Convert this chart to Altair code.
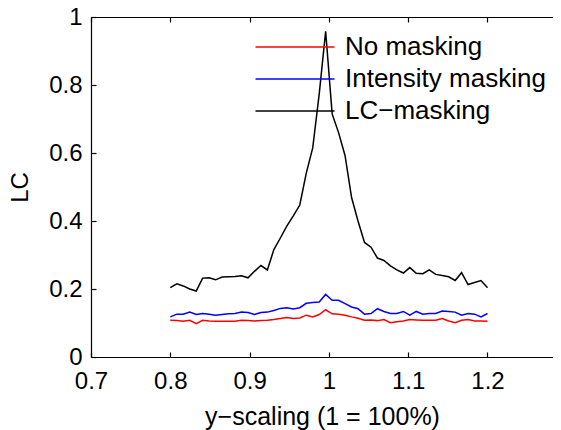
import altair as alt
import pandas as pd

x_vals = [0.8000, 0.8082, 0.8163, 0.8245, 0.8327, 0.8408, 0.8490, 0.8571, 0.8653, 0.8735,
          0.8816, 0.8898, 0.8980, 0.9061, 0.9143, 0.9224, 0.9306, 0.9388, 0.9469, 0.9551,
          0.9633, 0.9714, 0.9796, 0.9878, 0.9959, 1.0041, 1.0122, 1.0204, 1.0286, 1.0367,
          1.0449, 1.0531, 1.0612, 1.0694, 1.0776, 1.0857, 1.0939, 1.1020, 1.1102, 1.1184,
          1.1265, 1.1347, 1.1429, 1.1510, 1.1592, 1.1673, 1.1755, 1.1837, 1.1918, 1.2000]

no_masking = [0.108, 0.107, 0.105, 0.108, 0.098, 0.108, 0.106, 0.105, 0.105, 0.105,
              0.105, 0.108, 0.107, 0.106, 0.107, 0.108, 0.110, 0.113, 0.116, 0.113,
              0.115, 0.123, 0.118, 0.125, 0.139, 0.127, 0.126, 0.123, 0.118, 0.114,
              0.108, 0.109, 0.107, 0.110, 0.101, 0.104, 0.106, 0.110, 0.109, 0.108,
              0.108, 0.108, 0.113, 0.106, 0.101, 0.108, 0.110, 0.106, 0.106, 0.105]

intensity_masking = [0.118, 0.126, 0.126, 0.132, 0.125, 0.128, 0.126, 0.123, 0.125, 0.127,
                     0.128, 0.132, 0.131, 0.125, 0.131, 0.132, 0.137, 0.143, 0.145, 0.141,
                     0.145, 0.158, 0.160, 0.162, 0.184, 0.167, 0.167, 0.157, 0.147, 0.142,
                     0.126, 0.128, 0.142, 0.134, 0.128, 0.128, 0.134, 0.123, 0.134, 0.126,
                     0.128, 0.128, 0.135, 0.134, 0.132, 0.123, 0.128, 0.126, 0.118, 0.128]

lc_masking = [0.204, 0.215, 0.209, 0.200, 0.194, 0.232, 0.233, 0.227, 0.235, 0.236,
              0.237, 0.239, 0.233, 0.252, 0.269, 0.256, 0.316, 0.350, 0.385, 0.415,
              0.447, 0.540, 0.615, 0.774, 0.958, 0.715, 0.660, 0.592, 0.469, 0.400,
              0.337, 0.323, 0.291, 0.284, 0.268, 0.256, 0.247, 0.263, 0.246, 0.245,
              0.256, 0.243, 0.240, 0.236, 0.225, 0.248, 0.213, 0.219, 0.225, 0.204]

series_names = ["No masking", "Intensity masking", "LC\u2212masking"]
series_colors = ["#ff0000", "#0000ff", "#000000"]
x_ticks = [0.7, 0.8, 0.9, 1.0, 1.1, 1.2]
y_ticks = [0, 0.2, 0.4, 0.6, 0.8, 1.0]

rows = []
for name, vals in zip(series_names, [no_masking, intensity_masking, lc_masking]):
    for xv, yv in zip(x_vals, vals):
        rows.append({"x": xv, "value": yv, "series": name})
df = pd.DataFrame(rows)

FONT = "Liberation Sans"
xs = alt.Scale(domain=[0.7, 1.2826], nice=False, zero=False)
ys = alt.Scale(domain=[0, 1], nice=False)

common = dict(grid=False, labelFont=FONT, titleFont=FONT, domainColor="black",
              tickColor="black", labelColor="black", titleColor="black")

x_main = alt.Axis(orient="bottom", values=x_ticks, format="~g", ticks=False, domain=True,
                  domainWidth=1.2, labelFontSize=24, labelPadding=12, labelFlush=False,
                  title="y\u2212scaling (1 = 100%)", titleFontSize=25,
                  titleFontWeight="normal", titlePadding=11, **common)
y_main = alt.Axis(orient="left", values=y_ticks, format="~g", ticks=False, domain=True,
                  domainWidth=1.2, labelFontSize=24, labelPadding=9, labelFlush=False,
                  title="LC", titleFontSize=24, titleFontWeight="normal",
                  titlePadding=16, **common)
x_btm_ticks = alt.Axis(orient="bottom", values=x_ticks, offset=-5, tickSize=5, tickWidth=1.2,
                       domain=False, labels=False, title=None, **common)
y_left_ticks = alt.Axis(orient="left", values=y_ticks, offset=-5, tickSize=5, tickWidth=1.2,
                        domain=False, labels=False, title=None, **common)
x_top_dom = alt.Axis(orient="top", values=x_ticks, ticks=False, domain=True, domainWidth=1.2,
                     labels=False, title=None, **common)
x_top_ticks = alt.Axis(orient="top", values=x_ticks, offset=-5, tickSize=5, tickWidth=1.2,
                       domain=False, labels=False, title=None, **common)

legend = alt.Legend(orient="none", legendX=191, legendY=17, title=None,
                    symbolType="M-4,0H4", symbolSize=390, symbolStrokeWidth=1.5,
                    labelFontSize=26, labelFont=FONT, labelColor="black", labelLimit=400,
                    labelOffset=37, rowPadding=6, padding=0)

base = alt.Chart(df)

lines = base.mark_line(strokeWidth=1.5).encode(
    x=alt.X("x:Q", scale=xs, axis=x_main),
    y=alt.Y("value:Q", scale=ys, axis=y_main),
    color=alt.Color("series:N", scale=alt.Scale(domain=series_names, range=series_colors),
                    sort=series_names, legend=legend),
)

ghost1 = base.mark_line(opacity=0).encode(
    x=alt.X("x:Q", scale=xs, axis=x_btm_ticks),
    y=alt.Y("value:Q", scale=ys, axis=y_left_ticks),
    detail="series:N",
)
ghost2 = base.mark_line(opacity=0).encode(
    x=alt.X("x:Q", scale=xs, axis=x_top_dom),
    y=alt.Y("value:Q", scale=ys, axis=None),
    detail="series:N",
)
ghost3 = base.mark_line(opacity=0).encode(
    x=alt.X("x:Q", scale=xs, axis=x_top_ticks),
    y=alt.Y("value:Q", scale=ys, axis=None),
    detail="series:N",
)

chart = alt.layer(lines, ghost1, ghost2, ghost3).resolve_axis(
    x="independent", y="independent"
).properties(
    width=462, height=340,
    padding={"left": 83, "top": 9, "right": 0, "bottom": 73},
    autosize=alt.AutoSizeParams(type="none"),
    background="white",
).configure_view(stroke=None)

chart.save("out.html", embed_options={"renderer": "svg", "actions": False})
